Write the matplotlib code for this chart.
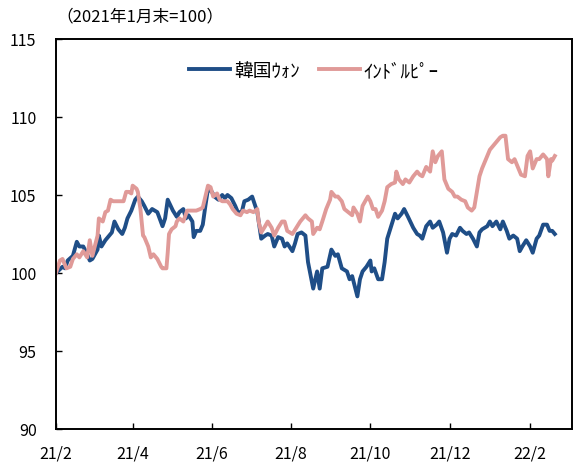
import numpy as np
import pandas as pd
import matplotlib
matplotlib.use("Agg")
import matplotlib.pyplot as plt
import matplotlib.dates as mdates
from matplotlib.ticker import FuncFormatter, MultipleLocator

plt.rcParams['font.family'] = ['Noto Sans CJK JP', 'DejaVu Sans']

# 2021年1月末=100 の指数（2021/2/1 からの経過日数）
base_date = pd.Timestamp("2021-02-01")

krw_days = [0, 5, 7, 9, 13, 16, 18, 21, 24, 26,
            28, 32, 33, 35, 38, 40, 43, 45, 48, 51,
            53, 55, 58, 61, 63, 66, 68, 71, 74, 78,
            82, 84, 86, 90, 93, 95, 98, 100, 102, 105,
            106, 108, 111, 113, 115, 117, 120, 122, 125, 128,
            130, 132, 135, 138, 140, 143, 145, 148, 151, 153,
            155, 158, 161, 163, 166, 168, 171, 174, 176, 178,
            182, 184, 186, 189, 192, 194, 198, 201, 203, 205,
            209, 212, 215, 217, 220, 224, 226, 228, 232, 234,
            236, 239, 242, 243, 245, 248, 251, 253, 255, 258,
            261, 263, 266, 268, 271, 275, 278, 280, 282, 285,
            288, 290, 293, 295, 298, 301, 303, 305, 308, 311,
            313, 316, 318, 321, 324, 326, 328, 332, 334, 336,
            339, 342, 344, 347, 349, 352, 355, 357, 359, 362,
            365, 367, 370, 372, 375, 378, 380, 382, 384]
krw = [100.0, 100.4, 100.3, 100.8, 101.1, 102.0, 101.7, 101.7, 101.2, 100.8,
       100.9, 101.5, 102.4, 101.7, 102.1, 102.3, 102.6, 103.3, 102.8, 102.5,
       102.9, 103.5, 104.0, 104.7, 104.9, 104.6, 104.3, 103.8, 104.1, 103.9,
       103.0, 103.5, 104.7, 104.0, 103.6, 103.9, 104.1, 103.5, 103.7, 103.3,
       102.3, 102.7, 102.7, 103.1, 104.3, 105.4, 105.2, 104.9, 104.7, 105.0,
       104.8, 105.0, 104.8, 104.3, 103.9, 103.9, 104.6, 104.7, 104.9, 104.4,
       103.9, 102.2, 102.4, 102.5, 102.4, 101.7, 102.3, 102.2, 101.7, 101.9,
       101.4, 101.9, 102.5, 102.6, 102.4, 100.7, 99.0, 100.1, 99.0, 100.3,
       100.4, 101.5, 101.1, 101.2, 100.3, 100.1, 99.6, 99.8, 98.5, 99.6,
       100.1, 100.4, 100.8, 100.1, 100.3, 99.6, 99.6, 100.7, 102.2, 103.0,
       103.8, 103.5, 103.8, 104.1, 103.6, 102.9, 102.5, 102.4, 102.2, 103.0,
       103.3, 102.9, 103.1, 103.3, 102.6, 101.3, 102.2, 102.5, 102.4, 102.9,
       102.7, 102.5, 102.6, 102.2, 101.7, 102.6, 102.8, 103.0, 103.3, 103.0,
       103.3, 102.8, 103.3, 102.7, 102.2, 102.4, 102.2, 101.4, 101.7, 102.1,
       101.7, 101.3, 102.2, 102.4, 103.1, 103.1, 102.7, 102.7, 102.5]

inr_days = [0, 3, 5, 8, 11, 13, 16, 18, 21, 24,
            26, 28, 32, 33, 36, 38, 40, 42, 44, 47,
            49, 52, 54, 56, 58, 59, 62, 63, 65, 67,
            68, 71, 73, 75, 77, 78, 81, 82, 85, 86,
            87, 89, 92, 93, 95, 98, 101, 103, 105, 108,
            111, 113, 115, 117, 119, 121, 124, 126, 128, 132,
            134, 136, 139, 142, 144, 147, 149, 152, 155, 156,
            158, 161, 163, 166, 168, 171, 174, 176, 178, 182,
            185, 188, 192, 194, 197, 198, 201, 203, 205, 208,
            211, 212, 215, 217, 220, 222, 225, 228, 229, 232,
            234, 236, 238, 240, 242, 244, 246, 248, 251, 253,
            255, 258, 261, 262, 264, 267, 269, 272, 275, 278,
            280, 282, 285, 288, 290, 292, 294, 297, 298, 299,
            302, 305, 307, 309, 312, 315, 317, 320, 322, 324,
            326, 328, 332, 334, 336, 339, 342, 344, 346, 348,
            351, 353, 355, 358, 361, 363, 365, 367, 370, 372,
            375, 378, 379, 381, 382, 384]
inr = [100.0, 100.8, 100.9, 100.3, 100.4, 100.9, 101.2, 101.0, 101.4, 101.0,
       102.1, 101.1, 102.4, 103.5, 103.3, 103.9, 104.0, 104.7, 104.6, 104.6,
       104.6, 104.6, 105.2, 105.2, 105.1, 105.6, 105.4, 105.2, 104.1, 102.4,
       102.3, 101.7, 101.0, 101.2, 101.0, 100.9, 100.4, 100.3, 100.3, 101.3,
       102.5, 102.8, 103.0, 103.3, 103.5, 103.3, 104.0, 104.0, 104.0, 104.0,
       104.1, 104.2, 104.9, 105.6, 105.5, 104.9, 105.1, 104.7, 104.6, 104.6,
       104.4, 104.1, 103.8, 103.7, 104.0, 103.9, 104.0, 103.9, 104.1, 103.3,
       102.6, 103.0, 103.3, 102.9, 102.4, 102.9, 103.3, 103.3, 102.7, 102.5,
       102.9, 103.3, 103.7, 103.5, 103.3, 102.5, 102.9, 102.8, 103.3, 104.1,
       104.7, 105.2, 104.9, 104.9, 104.6, 104.1, 103.9, 103.7, 104.2, 103.8,
       103.3, 104.3, 104.6, 104.9, 104.6, 104.1, 104.1, 103.6, 104.0, 104.6,
       105.5, 105.7, 105.8, 106.5, 106.0, 105.7, 106.0, 105.8, 106.2, 106.5,
       106.3, 106.2, 106.8, 106.5, 107.8, 107.1, 107.5, 107.8, 106.9, 106.0,
       105.4, 105.2, 104.9, 104.9, 104.7, 104.6, 104.2, 104.0, 104.2, 105.2,
       106.2, 106.7, 107.5, 107.9, 108.1, 108.4, 108.7, 108.8, 108.8, 107.3,
       107.1, 107.3, 106.9, 106.3, 106.2, 107.5, 107.8, 106.7, 107.3, 107.3,
       107.6, 107.3, 106.2, 107.3, 107.2, 107.5]

series_names = ["韓国ｳｫﾝ", "ｲﾝﾄﾞﾙﾋﾟｰ"]
series_colors = ["#1f4e87", "#e09a98"]

krw_dates = base_date + pd.to_timedelta(krw_days, unit="D")
inr_dates = base_date + pd.to_timedelta(inr_days, unit="D")

fig = plt.figure(figsize=(5.87, 4.64), dpi=100)
ax = fig.add_axes([56 / 587, 34 / 464, 515.7 / 587, 390 / 464])

ax.plot(krw_dates, krw, color=series_colors[0], lw=2.8, label=series_names[0],
        solid_joinstyle="round")
ax.plot(inr_dates, inr, color=series_colors[1], lw=2.8, label=series_names[1],
        solid_joinstyle="round")

# 軸の設定
ax.set_ylim(90, 115)
ax.yaxis.set_major_locator(MultipleLocator(5))
ax.set_xlim(base_date, base_date + pd.Timedelta(days=397))
ax.xaxis.set_major_locator(mdates.MonthLocator(bymonth=[2, 4, 6, 8, 10, 12]))
ax.xaxis.set_major_formatter(
    FuncFormatter(lambda v, pos: "{}/{}".format(mdates.num2date(v).year % 100,
                                                 mdates.num2date(v).month)))

for side in ["left", "right", "top", "bottom"]:
    ax.spines[side].set_linewidth(1.4)
    ax.spines[side].set_color("black")

ax.tick_params(axis="both", direction="in", length=4, width=1.0,
               labelsize=11.5, colors="black")
ax.tick_params(axis="x", pad=11)
ax.tick_params(axis="y", pad=14)

leg = ax.legend(loc="upper center", bbox_to_anchor=(0.5, 0.99), ncol=2,
                frameon=False, fontsize=13.5, handlelength=2.2,
                handletextpad=0.2, columnspacing=1.0)

fig.text(56 / 587, 1 - 17 / 464, "（2021年1月末=100）", fontsize=12,
         va="center", ha="left")

fig.savefig("out.png", dpi=100)
